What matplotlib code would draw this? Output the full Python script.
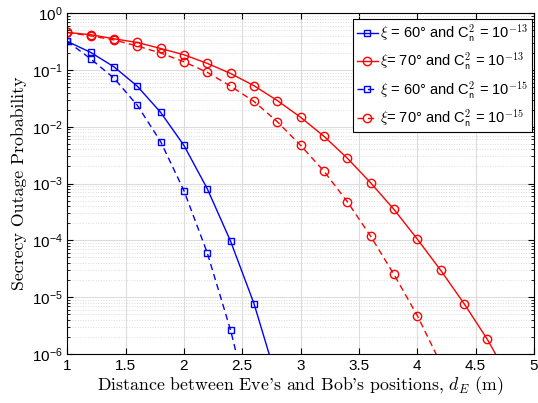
import numpy as np
import matplotlib
matplotlib.use("Agg")
import matplotlib.pyplot as plt
from matplotlib.ticker import LogLocator, FuncFormatter, MultipleLocator

plt.rcParams['font.family'] = ['Liberation Sans', 'DejaVu Sans']
plt.rcParams['mathtext.fontset'] = 'custom'
plt.rcParams['mathtext.rm'] = 'Liberation Sans'
plt.rcParams['mathtext.it'] = 'Liberation Sans:italic'
plt.rcParams['axes.formatter.use_mathtext'] = True

# distance between Eve and Bob (m)
d_e = [1.0, 1.2, 1.4, 1.6, 1.8, 2.0, 2.2, 2.4, 2.6, 2.8, 3.0, 3.2, 3.4, 3.6, 3.8, 4.0, 4.2, 4.4, 4.6, 4.8]

# xi = 60 deg, Cn2 = 1e-13
sop_60_13 = [0.32, 0.205, 0.114, 0.052, 0.018, 4.7e-3, 8.1e-4, 9.6e-5, 7.7e-6, 3.3e-7]
# xi = 70 deg, Cn2 = 1e-13
sop_70_13 = [0.46, 0.42, 0.356, 0.306, 0.24, 0.186, 0.131, 0.087, 0.053, 0.029,
             0.0147, 0.0068, 2.8e-3, 1.03e-3, 3.5e-4, 1.05e-4, 2.97e-5, 7.7e-6, 1.8e-6, 3.3e-7]
# xi = 60 deg, Cn2 = 1e-15
sop_60_15 = [0.32, 0.158, 0.072, 0.024, 5.5e-3, 7.5e-4, 6.0e-5, 2.6e-6, 5.5e-8]
# xi = 70 deg, Cn2 = 1e-15
sop_70_15 = [0.46, 0.40, 0.34, 0.265, 0.20, 0.14, 0.091, 0.052, 0.028, 0.0123,
             4.7e-3, 1.65e-3, 4.8e-4, 1.18e-4, 2.5e-5, 4.7e-6, 6.8e-7]

labels = [r"$\xi$ = 60° and C$_{\mathsf{n}}^{\mathsf{2}}$ = 10$^{\mathsf{-13}}$",
          r"$\xi$= 70° and C$_{\mathsf{n}}^{\mathsf{2}}$ = 10$^{\mathsf{-13}}$",
          r"$\xi$ = 60° and C$_{\mathsf{n}}^{\mathsf{2}}$ = 10$^{\mathsf{-15}}$",
          r"$\xi$= 70° and C$_{\mathsf{n}}^{\mathsf{2}}$ = 10$^{\mathsf{-15}}$"]

fig = plt.figure(figsize=(5.38, 4.03), dpi=100)
ax = fig.add_axes([0.125, 0.122, 0.8676, 0.845])

dash = (4.5, 3)
ax.semilogy(d_e[:len(sop_60_13)], sop_60_13, 'b-s', lw=1, ms=5, mfc='none', mew=1, label=labels[0])
ax.semilogy(d_e[:len(sop_70_13)], sop_70_13, 'r-o', lw=1, ms=6, mfc='none', mew=1, label=labels[1])
ax.semilogy(d_e[:len(sop_60_15)], sop_60_15, 'b--s', lw=1, ms=5, mfc='none', mew=1, dashes=dash, label=labels[2])
ax.semilogy(d_e[:len(sop_70_15)], sop_70_15, 'r--o', lw=1, ms=6, mfc='none', mew=1, dashes=dash, label=labels[3])

ax.set_xlim(1, 5)
ax.set_ylim(1e-6, 1)
ax.xaxis.set_major_locator(MultipleLocator(0.5))
ax.xaxis.set_major_formatter(FuncFormatter(lambda v, p: f"{v:g}"))
ax.yaxis.set_major_locator(LogLocator(base=10, numticks=10))
ax.yaxis.set_minor_locator(LogLocator(base=10, subs=np.arange(2, 10), numticks=20))
ax.yaxis.set_major_formatter(FuncFormatter(lambda v, p: r"10$^{%d}$" % round(np.log10(v))))

ax.grid(True, which='major', color='#dcdcdc', lw=0.8)
ax.grid(True, which='minor', axis='y', color='#dcdcdc', ls=':', lw=0.7)
ax.tick_params(which='both', direction='in', top=True, right=True, labelsize=11)
ax.tick_params(which='major', length=4)
ax.tick_params(which='minor', length=2)
for s in ax.spines.values():
    s.set_linewidth(0.8)

ax.set_xlabel(r"Distance between Eve's and Bob's positions, $d_E$ (m)",
              fontfamily='cmr10', fontsize=12.8, math_fontfamily='cm', labelpad=1)
ax.set_ylabel("Secrecy Outage Probability", fontfamily='cmr10', fontsize=12.8, labelpad=3)

leg = ax.legend(loc='upper right', bbox_to_anchor=(532 / 538, 1 - 19 / 403),
                bbox_transform=fig.transFigure, prop={'math_fontfamily': 'cm', 'size': 10.5},
                fancybox=False, framealpha=1, edgecolor='black', handlelength=1.45,
                handletextpad=0.15, borderpad=0.25, labelspacing=0.45, borderaxespad=0)
leg.get_frame().set_linewidth(0.8)

fig.savefig("out.png", dpi=100)
